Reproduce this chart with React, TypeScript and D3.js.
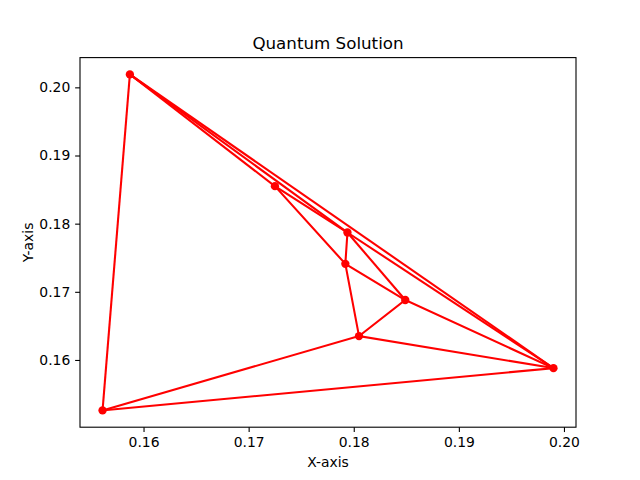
import React, { useRef, useEffect } from 'react';
import * as d3 from 'd3';

// node coordinates
const xs = [0.1587, 0.1725, 0.1794, 0.1792, 0.1849, 0.1805, 0.1990, 0.1561];
const ys = [0.2019, 0.1855, 0.1787, 0.1741, 0.1688, 0.1635, 0.1588, 0.1526];

// which nodes are joined
const edges = [
    [0, 7], [0, 1], [0, 2], [0, 6],
    [1, 2], [1, 3],
    [2, 3], [2, 4], [2, 6],
    [3, 4], [3, 5],
    [4, 5], [4, 6],
    [5, 7], [5, 6],
    [6, 7],
];

const xTicks = [0.16, 0.17, 0.18, 0.19, 0.20];
const yTicks = [0.16, 0.17, 0.18, 0.19, 0.20];

const Chart = () => {
    const ref = useRef(null);

    useEffect(() => {
        const width = 640;
        const height = 480;
        const left = 80, right = 576, top = 57.6, bottom = 427.2;
        const font = 'DejaVu Sans, sans-serif';

        const svg = d3.select(ref.current);
        svg.selectAll('*').remove();

        // matplotlib style autoscale: 5% margin on each side
        const pad = (lo, hi) => [lo - (hi - lo) * 0.05, hi + (hi - lo) * 0.05];
        const x = d3.scaleLinear().domain(pad(d3.min(xs), d3.max(xs))).range([left, right]);
        const y = d3.scaleLinear().domain(pad(d3.min(ys), d3.max(ys))).range([bottom, top]);

        svg.append('rect').attr('width', width).attr('height', height).attr('fill', '#fff');

        const line = d3.line().x(i => x(xs[i])).y(i => y(ys[i]));

        const plot = svg.append('g');
        plot.selectAll('path.edge')
            .data(edges)
            .enter()
            .append('path')
            .attr('class', 'edge')
            .attr('d', d => line(d))
            .attr('fill', 'none')
            .attr('stroke', '#ff0000')
            .attr('stroke-width', 2.08)
            .attr('stroke-linecap', 'square');

        plot.selectAll('circle')
            .data(xs.map((v, i) => i))
            .enter()
            .append('circle')
            .attr('cx', i => x(xs[i]))
            .attr('cy', i => y(ys[i]))
            .attr('r', 4.17)
            .attr('fill', '#ff0000');

        // frame
        svg.append('rect')
            .attr('x', left).attr('y', top)
            .attr('width', right - left).attr('height', bottom - top)
            .attr('fill', 'none').attr('stroke', '#000').attr('stroke-width', 1.1);

        const xAxis = svg.append('g')
            .attr('transform', `translate(0,${bottom})`)
            .call(d3.axisBottom(x).tickValues(xTicks).tickFormat(d3.format('.2f')).tickSize(4.86).tickPadding(4.86));
        const yAxis = svg.append('g')
            .attr('transform', `translate(${left},0)`)
            .call(d3.axisLeft(y).tickValues(yTicks).tickFormat(d3.format('.2f')).tickSize(4.86).tickPadding(4.86));

        [xAxis, yAxis].forEach(a => {
            a.select('.domain').remove();
            a.selectAll('line').attr('stroke', '#000').attr('stroke-width', 1.1);
            a.selectAll('text').attr('font-family', font).attr('font-size', 13.9).attr('fill', '#000');
        });

        svg.append('text')
            .attr('x', (left + right) / 2).attr('y', 49)
            .attr('text-anchor', 'middle')
            .attr('font-family', font).attr('font-size', 16.7)
            .text('Quantum Solution');

        svg.append('text')
            .attr('x', (left + right) / 2).attr('y', 467)
            .attr('text-anchor', 'middle')
            .attr('font-family', font).attr('font-size', 13.9)
            .text('X-axis');

        svg.append('text')
            .attr('transform', `translate(33,${(top + bottom) / 2}) rotate(-90)`)
            .attr('text-anchor', 'middle')
            .attr('font-family', font).attr('font-size', 13.9)
            .text('Y-axis');
    }, []);

    return (
        <svg
            ref={ref}
            width={640}
            height={480}
            style={{ position: 'absolute', left: 0, top: 0 }}
        />
    );
};

const App = () => <Chart />;

export default App;
